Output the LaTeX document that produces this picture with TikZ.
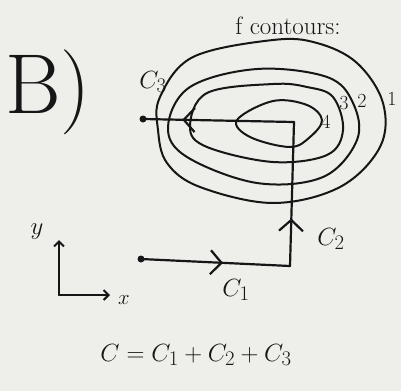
\documentclass[tikz,border=0pt]{standalone}
\usetikzlibrary{arrows.meta,decorations.markings}
\definecolor{paper}{RGB}{238,238,235}
\definecolor{ink}{RGB}{22,22,22}
\tikzset{
  ink/.style={draw=ink,line width=2.2pt,line cap=round,line join=round},
  contour/.style={ink,line width=2pt},
  lbl/.style={text=ink,inner sep=0pt},
  midarrow/.style={postaction={decorate,decoration={markings,
     mark=at position #1 with {\arrow[ink,line width=2.2pt]{Straight Barb[length=11pt,width=24pt]}}}}},
  dotc/.style={circle,fill=ink,inner sep=0pt,minimum size=7pt}
}
\begin{document}
\begin{tikzpicture}[x=1pt,y=-1pt]
\fill[paper] (0,0) rectangle (401,391);
\useasboundingbox (0,0) rectangle (401,391);
% contours
\draw[contour] plot[smooth cycle,tension=0.6] coordinates {(273,40) (317,43) (357,63) (383,103) (380,147) (340,187) (273,203) (200,187) (167,163) (158,130) (160,97) (193,57)};
\draw[contour] plot[smooth cycle,tension=0.6] coordinates {(257,69) (327,77) (353,103) (357,140) (323,177) (257,183) (187,157) (168,127) (190,87)};
\draw[contour] plot[smooth cycle,tension=0.6] coordinates {(273,84) (307,87) (333,97) (343,130) (327,155) (273,162) (207,147) (190,127) (207,93)};
\draw[contour] plot[smooth cycle,tension=0.6] coordinates {(273,101) (307,105) (322,120) (310,137) (290,147) (250,137) (237,120)};
% path
\node[dotc] (s) at (141,259) {};
\coordinate (k) at (290,266);
\coordinate (t) at (294,122);
\node[dotc] (e) at (143,119) {};
\draw[ink,midarrow=0.55] (s.center) -- (k);
\draw[ink,midarrow=0.33] (k) -- (t);
\draw[ink,midarrow=0.74] (t) -- (e.center);
% axes
\coordinate (o) at (59,295);
\coordinate (yt) at (59,240);
\coordinate (xt) at (110,295);
\draw[ink,line width=2pt,-{Straight Barb[length=5pt,width=10pt]}] (o) -- (yt);
\draw[ink,line width=2pt,-{Straight Barb[length=5pt,width=10pt]}] (o) -- (xt);
% labels
\node[lbl,font=\fontsize{85}{85}\selectfont] (B) at (48,92) {B)};
\node[lbl,font=\fontsize{25}{25}\selectfont] (fc) at (288,26) {f contours:};
\node[lbl,font=\fontsize{30}{30}\selectfont] (c3) at (153,82) {$C_3$};
\node[lbl,font=\fontsize{30}{30}\selectfont] (c2) at (331,239) {$C_2$};
\node[lbl,font=\fontsize{30}{30}\selectfont] (c1) at (236,290) {$C_1$};
\node[lbl,font=\fontsize{20}{20}\selectfont] (n3) at (344,103) {3};
\node[lbl,font=\fontsize{20}{20}\selectfont] (n2) at (362,101) {2};
\node[lbl,font=\fontsize{20}{20}\selectfont] (n1) at (392,99) {1};
\node[lbl,font=\fontsize{20}{20}\selectfont] (n4) at (326,122) {4};
\node[lbl,font=\fontsize{24}{24}\selectfont] (ly) at (37,232) {$y$};
\node[lbl,font=\fontsize{20}{20}\selectfont] (lx) at (124,300) {$x$};
\node[lbl,font=\fontsize{30}{30}\selectfont] (eq) at (196,355) {$C=C_1+C_2+C_3$};
\end{tikzpicture}
\end{document}
